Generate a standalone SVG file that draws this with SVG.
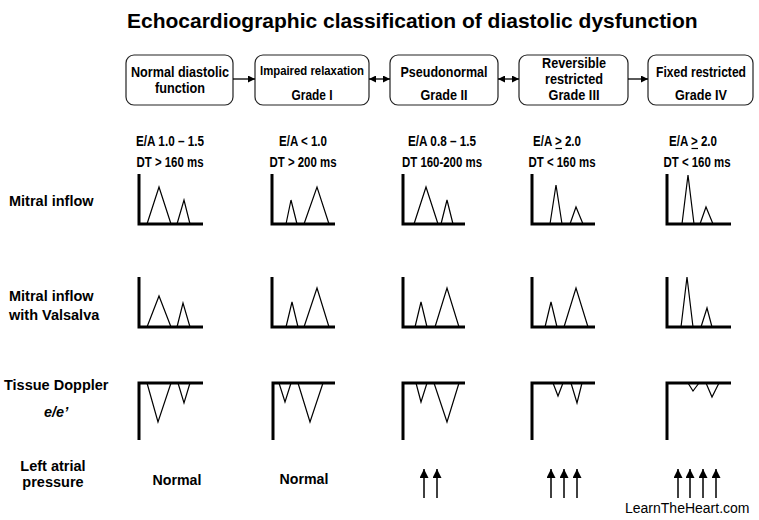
<svg xmlns="http://www.w3.org/2000/svg" width="759" height="520" viewBox="0 0 759 520">
<defs>
<style>
.bg{fill:#fff}
.title{font-family:"Liberation Sans",Arial,sans-serif;font-weight:bold;font-size:21px;fill:#000}
.box{fill:#fff;stroke:#222;stroke-width:1.2}
.bt{font-family:"Liberation Sans Narrow","Arial Narrow","Liberation Sans",sans-serif;font-weight:bold;font-size:15px;fill:#000;text-anchor:middle}
.hd{font-family:"Liberation Sans Narrow","Arial Narrow","Liberation Sans",sans-serif;font-weight:bold;font-size:14px;fill:#000;text-anchor:middle}
.lab{font-family:"Liberation Sans",Arial,sans-serif;font-weight:bold;font-size:14.5px;fill:#000}
.val{font-family:"Liberation Sans",Arial,sans-serif;font-weight:bold;font-size:14.2px;fill:#000;text-anchor:middle}
.axis{fill:none;stroke:#000;stroke-width:3}
.wave{fill:none;stroke:#000;stroke-width:1.2;stroke-linejoin:miter}
.conn{stroke:#000;stroke-width:1.3;fill:none}
.up{stroke:#000;stroke-width:1.5;fill:none}
.ul{stroke:#000;stroke-width:1.2}
.credit{font-family:"Liberation Sans",Arial,sans-serif;font-size:14px;fill:#000}
</style>
<marker id="ah" viewBox="0 0 8 8" refX="8" refY="4" markerWidth="7" markerHeight="7" markerUnits="userSpaceOnUse" orient="auto-start-reverse">
<path d="M0,0 L8,4 L0,8 z" fill="#000"/>
</marker>
<marker id="uh" viewBox="0 0 8 8" refX="4" refY="0" markerWidth="9" markerHeight="9" markerUnits="userSpaceOnUse" orient="0">
<path d="M0,8 L4,0 L8,8 z" fill="#000"/>
</marker>
</defs>
<rect class="bg" x="0" y="0" width="759" height="520"/>
<text class="title" x="127" y="28">Echocardiographic classification of diastolic dysfunction</text>

<g id="node-normal">
<rect class="box" x="126" y="55" width="107" height="50" rx="8"/>
<text class="bt" x="180" y="77" textLength="98" lengthAdjust="spacingAndGlyphs">Normal diastolic</text>
<text class="bt" x="180" y="93" textLength="50" lengthAdjust="spacingAndGlyphs">function</text>
</g>
<g id="node-grade1">
<rect class="box" x="255" y="55" width="114" height="50" rx="8"/>
<text class="bt" x="312" y="75" style="font-size:13.5px" textLength="104" lengthAdjust="spacingAndGlyphs">Impaired relaxation</text>
<text class="bt" x="312" y="100" textLength="41" lengthAdjust="spacingAndGlyphs">Grade I</text>
</g>
<g id="node-grade2">
<rect class="box" x="390" y="55" width="108" height="50" rx="8"/>
<text class="bt" x="444" y="77" textLength="87" lengthAdjust="spacingAndGlyphs">Pseudonormal</text>
<text class="bt" x="444" y="100" textLength="47" lengthAdjust="spacingAndGlyphs">Grade II</text>
</g>
<g id="node-grade3">
<rect class="box" x="519" y="55" width="109" height="50" rx="8"/>
<text class="bt" x="574" y="68" textLength="64" lengthAdjust="spacingAndGlyphs">Reversible</text>
<text class="bt" x="574" y="84" textLength="58" lengthAdjust="spacingAndGlyphs">restricted</text>
<text class="bt" x="574" y="100" textLength="51" lengthAdjust="spacingAndGlyphs">Grade III</text>
</g>
<g id="node-grade4">
<rect class="box" x="648" y="55" width="105" height="50" rx="8"/>
<text transform="translate(701,77) scale(0.806,1)" x="0" y="0" style="font-family:'Liberation Sans',Arial,sans-serif;font-weight:bold;font-size:15px;text-anchor:middle;fill:#000">Fixed restricted</text>
<text class="bt" x="701" y="100" textLength="52" lengthAdjust="spacingAndGlyphs">Grade IV</text>
</g>

<g id="connectors">
<line class="conn" x1="233" y1="79" x2="255" y2="79" marker-end="url(#ah)"/>
<line class="conn" x1="369" y1="79" x2="390" y2="79" marker-start="url(#ah)" marker-end="url(#ah)"/>
<line class="conn" x1="498" y1="79" x2="519" y2="79" marker-start="url(#ah)" marker-end="url(#ah)"/>
<line class="conn" x1="628" y1="79" x2="648" y2="79" marker-end="url(#ah)"/>
</g>

<g id="headers">
<text class="hd" x="170" y="146" textLength="68" lengthAdjust="spacingAndGlyphs">E/A 1.0 – 1.5</text>
<text class="hd" x="170" y="167" textLength="67" lengthAdjust="spacingAndGlyphs">DT &gt; 160 ms</text>
<text class="hd" x="303" y="146" textLength="48" lengthAdjust="spacingAndGlyphs">E/A &lt; 1.0</text>
<text class="hd" x="303" y="167" textLength="67" lengthAdjust="spacingAndGlyphs">DT &gt; 200 ms</text>
<text class="hd" x="442" y="146" textLength="68" lengthAdjust="spacingAndGlyphs">E/A 0.8 – 1.5</text>
<text class="hd" x="442" y="167" textLength="80" lengthAdjust="spacingAndGlyphs">DT 160-200 ms</text>
<text class="hd" x="557" y="146" textLength="48" lengthAdjust="spacingAndGlyphs">E/A &gt; 2.0</text>
<line class="ul" x1="555.5" y1="148.5" x2="562" y2="148.5"/>
<text class="hd" x="562" y="167" textLength="67" lengthAdjust="spacingAndGlyphs">DT &lt; 160 ms</text>
<text class="hd" x="693" y="146" textLength="48" lengthAdjust="spacingAndGlyphs">E/A &gt; 2.0</text>
<line class="ul" x1="691.5" y1="148.5" x2="698" y2="148.5"/>
<text class="hd" x="697" y="167" textLength="67" lengthAdjust="spacingAndGlyphs">DT &lt; 160 ms</text>
</g>

<g id="row-labels">
<text class="lab" x="9" y="206">Mitral inflow</text>
<text class="lab" x="9" y="301">Mitral inflow</text>
<text class="lab" x="9" y="320">with Valsalva</text>
<text class="lab" x="4" y="390">Tissue Doppler</text>
<text class="lab" x="44" y="417" style="font-style:italic">e/e’</text>
<text class="lab" x="53" y="471" text-anchor="middle">Left atrial</text>
<text class="lab" x="53" y="487" text-anchor="middle">pressure</text>
</g>

<g id="mitral-inflow">
<path class="axis" d="M139,174 V224 H203"/>
<path class="wave" d="M147,224 L159,187 L171,224 M177,224 L184,200 L190,224"/>
<path class="axis" d="M272,174 V224 H335"/>
<path class="wave" d="M286,224 L291,200 L297,224 M304,224 L317,187 L329,224"/>
<path class="axis" d="M403,174 V224 H465"/>
<path class="wave" d="M414,224 L426,187 L438,224 M441,224 L447,200 L453,224"/>
<path class="axis" d="M532,174 V224 H595"/>
<path class="wave" d="M550,224 L556,185 L562,224 M570,224 L576,207 L583,224"/>
<path class="axis" d="M667,174 V224 H731"/>
<path class="wave" d="M682,224 L688,175 L694,224 M700,224 L706,207 L713,224"/>
</g>

<g id="mitral-valsalva">
<path class="axis" d="M139,277 V327 H203"/>
<path class="wave" d="M147,327 L159,296 L171,327 M177,327 L183,303 L190,327"/>
<path class="axis" d="M272,277 V327 H335"/>
<path class="wave" d="M286,327 L292,302 L298,327 M304,327 L317,288 L329,327"/>
<path class="axis" d="M403,277 V327 H465"/>
<path class="wave" d="M415,327 L421,302 L427,327 M435,327 L447,288 L459,327"/>
<path class="axis" d="M532,277 V327 H595"/>
<path class="wave" d="M545,327 L551,302 L557,327 M564,327 L576,288 L588,327"/>
<path class="axis" d="M667,277 V327 H731"/>
<path class="wave" d="M681,327 L687,277 L693,327 M701,327 L707,308 L712,327"/>
</g>

<g id="tissue-doppler">
<path class="axis" d="M139,440 V383 H203"/>
<path class="wave" d="M147,383 L158,422 L171,383 M178,383 L184,403 L190,383"/>
<path class="axis" d="M273,440 V383 H335"/>
<path class="wave" d="M279,383 L285,402 L291,383 M298,383 L310,422 L323,383"/>
<path class="axis" d="M403,440 V383 H465"/>
<path class="wave" d="M416,383 L421,402 L427,383 M434,383 L447,422 L459,383"/>
<path class="axis" d="M532,440 V383 H595"/>
<path class="wave" d="M553,383 L558,396 L563,383 M571,383 L577,403 L582,383"/>
<path class="axis" d="M667,440 V383 H731"/>
<path class="wave" d="M688,383 L693,391 L699,383 M706,383 L712,397 L719,383"/>
</g>

<g id="left-atrial-pressure">
<text class="val" x="177" y="485">Normal</text>
<text class="val" x="304" y="484">Normal</text>
<line class="up" x1="424" y1="498" x2="424" y2="469" marker-end="url(#uh)"/>
<line class="up" x1="437" y1="498" x2="437" y2="469" marker-end="url(#uh)"/>
<line class="up" x1="551" y1="498" x2="551" y2="469" marker-end="url(#uh)"/>
<line class="up" x1="564" y1="498" x2="564" y2="469" marker-end="url(#uh)"/>
<line class="up" x1="577" y1="498" x2="577" y2="469" marker-end="url(#uh)"/>
<line class="up" x1="678" y1="498" x2="678" y2="469" marker-end="url(#uh)"/>
<line class="up" x1="690" y1="498" x2="690" y2="469" marker-end="url(#uh)"/>
<line class="up" x1="703" y1="498" x2="703" y2="469" marker-end="url(#uh)"/>
<line class="up" x1="716" y1="498" x2="716" y2="469" marker-end="url(#uh)"/>
</g>

<text class="credit" x="625" y="513">LearnTheHeart.com</text>
</svg>
